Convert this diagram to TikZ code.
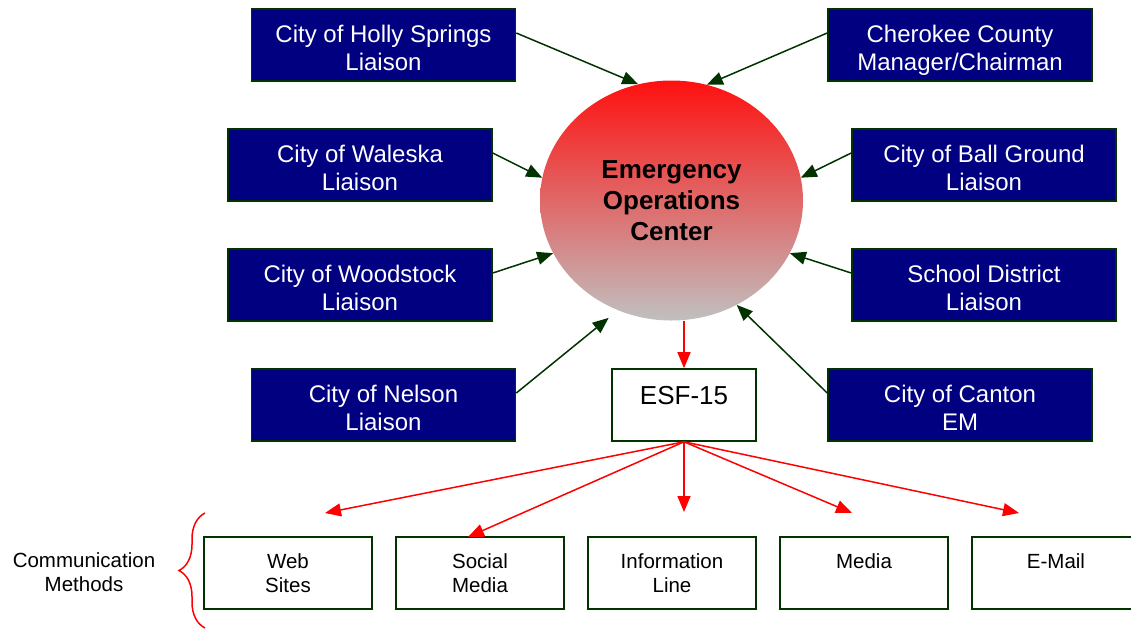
\documentclass[tikz,border=0pt]{standalone}
\usepackage{fontspec}
\setmainfont{Liberation Sans}
\usetikzlibrary{shapes.geometric,arrows.meta,decorations.pathreplacing}
\definecolor{navy}{RGB}{0,0,128}
\definecolor{dkgreen}{RGB}{0,51,0}
\definecolor{eocred}{RGB}{255,16,16}
\definecolor{eocgray}{RGB}{192,192,192}
\begin{document}
\begin{tikzpicture}[x=1pt,y=-1pt,
  liaison/.style={draw=dkgreen, line width=1.6pt, fill=navy, text=white,
    minimum width=264pt, minimum height=72pt, inner sep=0pt, align=center,
    text height=52pt, text depth=2pt,
    font=\fontsize{24}{28}\selectfont},
  method/.style={draw=dkgreen, line width=1.6pt, fill=white,
    minimum width=168pt, minimum height=72pt, inner sep=0pt, align=center,
    font=\fontsize{20.5}{24}\selectfont},
  garrow/.style={draw=dkgreen, line width=1.5pt, -{Triangle[length=16pt,width=13pt]}},
  rarrow/.style={draw=red, line width=1.5pt, -{Triangle[length=16pt,width=13pt]}},
  up12/.style={yshift=12pt}
]
\useasboundingbox (0,0) rectangle (1131,630);

% central ellipse
\node[ellipse, minimum width=263pt, minimum height=240pt, inner sep=0pt,
  top color=eocred, bottom color=eocgray, align=center,
  font=\bfseries\fontsize{26}{31}\selectfont] (eoc) at (671.5,200.5)
  {Emergency\\Operations\\Center};

% liaison boxes
\node[liaison] (hs) at (383.5,45) {City of Holly Springs\\Liaison};
\node[liaison] (ch) at (960,45) {Cherokee County\\Manager/Chairman};
\node[liaison] (wa) at (360,165) {City of Waleska\\Liaison};
\node[liaison] (bg) at (984,165) {City of Ball Ground\\Liaison};
\node[liaison] (wo) at (360,285) {City of Woodstock\\Liaison};
\node[liaison] (sd) at (984,285) {School District\\Liaison};
\node[liaison] (ne) at (383.5,405) {City of Nelson\\Liaison};
\node[liaison] (ca) at (960,405) {City of Canton\\EM};

% ESF-15
\node[draw=dkgreen, line width=1.6pt, fill=white, minimum width=144pt,
  minimum height=72pt, inner sep=0pt, text height=18.6pt, text depth=20pt,
  font=\fontsize{26}{31}\selectfont] (esf) at (684,405) {ESF-15};

% communication methods
\node[method] (web) at (288,573) {Web\\Sites};
\node[method] (soc) at (480,573) {Social\\Media};
\node[method] (inf) at (672,573) {Information\\Line};
\node[method] (med) at (864,573) {Media\\~};
\node[method] (eml) at (1056,573) {E-Mail\\~};
\node[align=center, font=\fontsize{20.5}{24}\selectfont] (cm) at (84,572)
  {Communication\\Methods};

\draw[red, line width=1.5pt, decorate, decoration={brace, amplitude=26pt}]
  (205,628) -- (205,513);

% arrow tips of the method arrows
\coordinate (tw) at (325,513);
\coordinate (ts) at (468,537);
\coordinate (ti) at (684,512);
\coordinate (tm) at (852,513);
\coordinate (te) at (1019,513);

% liaison arrows
\draw[garrow] ([up12]hs.east) -- (eoc.106);
\draw[garrow] ([up12]ch.west) -- (eoc.73);
\draw[garrow] ([up12]wa.east) -- (eoc.170);
\draw[garrow] ([up12]bg.west) -- (eoc.10);
\draw[garrow] ([up12]wo.east) -- (eoc.204);
\draw[garrow] ([up12]sd.west) -- (eoc.336);
\draw[garrow, shorten >=12pt] ([up12]ne.east) -- (eoc.244);
\draw[garrow] ([up12]ca.west) -- (eoc.302);

% red arrows
\draw[rarrow] (eoc.south -| esf.north) -- (esf.north);
\draw[rarrow] (esf.south) -- (tw);
\draw[rarrow] (esf.south) -- (ts);
\draw[rarrow] (esf.south) -- (ti);
\draw[rarrow] (esf.south) -- (tm);
\draw[rarrow] (esf.south) -- (te);
\end{tikzpicture}
\end{document}
